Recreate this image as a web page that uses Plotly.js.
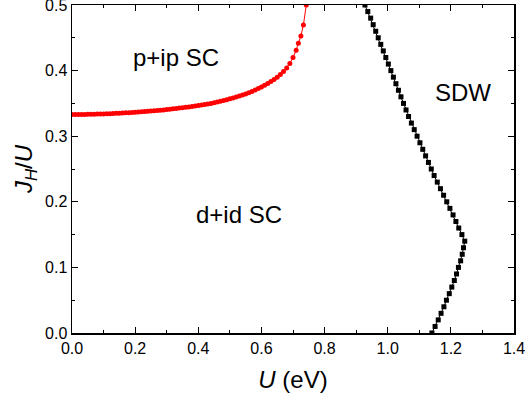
<!DOCTYPE html>
<html>
<head>
<meta charset="utf-8">
<script src="https://cdn.plot.ly/plotly-3.0.1.min.js"></script>
<style>html,body{margin:0;padding:0;background:#fff;}</style>
</head>
<body>
<div id="chart" style="width:532px;height:402px;"></div>
<script>
// p+ip SC boundary (red): U (eV) and J_H/U
const redU = [0.00,0.01,0.02,0.03,0.04,0.05,0.06,0.07,0.08,0.09,
  0.10,0.11,0.12,0.13,0.14,0.15,0.16,0.17,0.18,0.19,
  0.20,0.21,0.22,0.23,0.24,0.25,0.26,0.27,0.28,0.29,
  0.30,0.31,0.32,0.33,0.34,0.35,0.36,0.37,0.38,0.39,
  0.40,0.41,0.42,0.43,0.44,0.45,0.46,0.47,0.48,0.49,
  0.50,0.51,0.52,0.53,0.54,0.55,0.56,0.57,0.58,0.59,
  0.60,0.61,0.62,0.63,0.64,0.65,0.66,0.67,0.68,0.69,
  0.70,0.71,0.717,0.725,0.733,0.742];
const redJ = [0.3330,0.3330,0.3331,0.3331,0.3332,0.3333,0.3334,0.3335,0.3337,0.3338,
  0.3340,0.3342,0.3344,0.3346,0.3348,0.3350,0.3353,0.3356,0.3359,0.3362,
  0.3365,0.3368,0.3372,0.3375,0.3379,0.3383,0.3387,0.3392,0.3396,0.3401,
  0.3406,0.3411,0.3417,0.3422,0.3428,0.3434,0.3440,0.3446,0.3453,0.3460,
  0.3467,0.3475,0.3483,0.3491,0.3500,0.3510,0.3521,0.3532,0.3544,0.3557,
  0.3570,0.3584,0.3598,0.3613,0.3629,0.3645,0.3663,0.3682,0.3703,0.3726,
  0.3750,0.3776,0.3804,0.3834,0.3866,0.3900,0.3940,0.3985,0.4040,0.4110,
  0.4200,0.4310,0.4416,0.4528,0.4695,0.5000];

// SDW boundary (black): J_H/U and U (eV)
const blackJ = [0.00,0.01,0.02,0.03,0.04,0.05,0.06,0.07,0.08,0.09,
  0.10,0.11,0.12,0.13,0.14,0.15,0.16,0.17,0.18,0.19,
  0.20,0.21,0.22,0.23,0.24,0.25,0.26,0.27,0.28,0.29,
  0.30,0.31,0.32,0.33,0.34,0.35,0.36,0.37,0.38,0.39,
  0.40,0.41,0.42,0.43,0.44,0.45,0.46,0.47,0.48,0.49,0.50];
const blackU = [1.140,1.150,1.160,1.169,1.178,1.186,1.195,1.203,1.211,1.218,
  1.224,1.231,1.236,1.240,1.244,1.235,1.225,1.216,1.207,1.197,
  1.187,1.177,1.167,1.157,1.147,1.138,1.129,1.120,1.111,1.102,
  1.093,1.084,1.075,1.066,1.058,1.050,1.042,1.034,1.026,1.018,
  1.010,1.002,0.994,0.986,0.978,0.970,0.962,0.954,0.946,0.937,0.928];

const phaseLabels = ["p+ip SC", "d+id SC", "SDW"];
const labelU = [0.33, 0.53, 1.24];
const labelJ = [0.42, 0.18, 0.367];

const FONT = "Liberation Sans, Arial, sans-serif";

const traces = [
  {x: redU, y: redJ, mode: 'lines+markers', type: 'scatter',
   line: {color: '#ff0000', width: 1},
   marker: {symbol: 'circle', size: 5, color: '#ff0000'},
   cliponaxis: true, hoverinfo: 'skip'},
  {x: blackU, y: blackJ, mode: 'lines+markers', type: 'scatter',
   line: {color: '#000000', width: 1},
   marker: {symbol: 'square', size: 5, color: '#000000'},
   cliponaxis: true, hoverinfo: 'skip'}
];

const axisCommon = {
  showgrid: false, zeroline: false,
  showline: true, linecolor: '#000', linewidth: 1.5,
  mirror: 'allticks', ticks: 'inside', ticklen: 6, tickwidth: 1.2, tickcolor: '#000',
  ticklabeloverflow: 'allow',
  tickfont: {family: FONT, size: 16, color: '#000'},
};

const layout = {
  width: 532, height: 402,
  margin: {l: 72, r: 18, t: 5, b: 69},
  paper_bgcolor: '#fff', plot_bgcolor: '#fff',
  showlegend: false,
  font: {family: FONT, color: '#000'},
  xaxis: Object.assign({}, axisCommon, {
    range: [0, 1.4], dtick: 0.2, tick0: 0, tickformat: '.1f',
    minor: {dtick: 0.1, ticks: 'inside', ticklen: 3, tickcolor: '#000', tickwidth: 1},
    title: {text: '<i>U</i> (eV)', font: {family: FONT, size: 24, color: '#000'}, standoff: 15}
  }),
  yaxis: Object.assign({}, axisCommon, {
    range: [0, 0.5], dtick: 0.1, tick0: 0, tickformat: '.1f',
    minor: {dtick: 0.05, ticks: 'inside', ticklen: 3, tickcolor: '#000', tickwidth: 1},
    title: {text: '<i>J</i><sub><i>H</i></sub>/<i>U</i>', font: {family: FONT, size: 24, color: '#000'}, standoff: 5}
  }),
  annotations: phaseLabels.map((t, i) => ({
    text: t, x: labelU[i], y: labelJ[i], xref: 'x', yref: 'y',
    showarrow: false, font: {family: FONT, size: 24, color: '#000'}
  }))
};

Plotly.newPlot('chart', traces, layout, {displayModeBar: false, staticPlot: true});
</script>
</body>
</html>
